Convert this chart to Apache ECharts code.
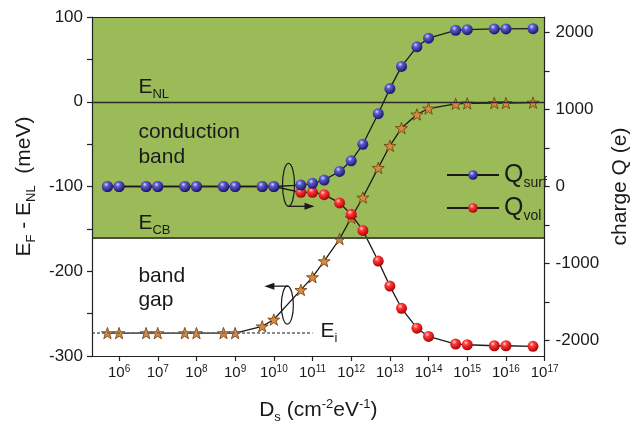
<!DOCTYPE html>
<html><head><meta charset="utf-8">
<script src="https://cdn.jsdelivr.net/npm/echarts@6/dist/echarts.min.js"></script>
<style>html,body{margin:0;padding:0;background:#fff}#c{width:639px;height:429px}</style>
</head><body><div id="c"></div>
<script>
// ---- data ----
const dValues = [5e5,1e6,5e6,1e7,5e7,1e8,5e8,1e9,5e9,1e10,5e10,1e11,2e11,5e11,1e12,2e12,5e12,1e13,2e13,5e13,1e14,5e14,1e15,5e15,1e16,5e16];
const eFermi = [-273,-273,-273,-273,-273,-273,-273,-273,-265,-257,-222,-207,-188,-162,-137,-113,-78,-52,-31,-15,-8,-2.5,-2,-1.5,-1.5,-1];
const qSurf = [0,0,0,0,0,0,0,0,0,0,19,41,84,196,333,548,945,1271,1559,1813,1925,2028,2036,2045,2045,2049];
const qVol = [0,0,0,0,0,0,0,0,0,0,-75,-75,-106,-213,-361,-570,-968,-1293,-1581,-1839,-1946,-2045,-2054,-2067,-2067,-2075];
const xTickExponents = [6,7,8,9,10,11,12,13,14,15,16,17];
const rightLabelValues = [-2000,-1000,0,1000,2000];
const rightTickValues = [-2000,-1500,-1000,-500,0,500,1000,1500,2000];
const xMinExp = 5.3, xMaxExp = 17;
const eNL = 0, eCB = -161, eI = -273, eIEndExp = 11.0;

const FONT = '"Liberation Sans", Arial, sans-serif';
const TXT = '#1a1a1a';
const starPath = 'path://M50,0L61.76,33.82L97.55,34.55L69.02,56.18L79.39,90.45L50,70L20.61,90.45L30.98,56.18L2.45,34.55L38.24,33.82Z';
const blueBall = {type:'radial',x:0.38,y:0.32,r:0.7,colorStops:[{offset:0,color:'#d6d6ff'},{offset:0.3,color:'#5c5ccc'},{offset:1,color:'#14146a'}]};
const redBall = {type:'radial',x:0.38,y:0.32,r:0.7,colorStops:[{offset:0,color:'#ffd6d6'},{offset:0.3,color:'#ff3a3a'},{offset:1,color:'#a80000'}]};
const lineCol = '#1a1a1a';

const pts = arr => dValues.map((d,i)=>[Math.log10(d), arr[i]]);

const subRich = {
  b:{fontSize:21,fontFamily:FONT,color:TXT,lineHeight:24},
  sub:{fontSize:13,fontFamily:FONT,color:TXT,lineHeight:13,padding:[13,0,0,0],verticalAlign:'top'},
  sup:{fontSize:13,fontFamily:FONT,color:TXT,lineHeight:13,verticalAlign:'top'}
};

const chart = echarts.init(document.getElementById('c'), null, {renderer:'canvas'});
const axisLineStyle = {color:'#222',width:1.2};
chart.setOption({
  animation:false,
  backgroundColor:'#fff',
  grid:{left:92,right:86,top:17,bottom:71},
  legend:{
    orient:'vertical', left:441, top:157, itemWidth:52, itemHeight:12, itemGap:5,
    data:['Qsurf','Qvol'],
    formatter: n => n==='Qsurf' ? '{q|Q}{s|surf}' : '{q|Q}{s|vol}',
    textStyle:{rich:{
      q:{fontSize:25,fontFamily:FONT,color:TXT,lineHeight:26},
      s:{fontSize:14,fontFamily:FONT,color:TXT,lineHeight:14,padding:[14,0,0,0],verticalAlign:'top'}
    }}
  },
  xAxis:[{
    type:'value', min:xMinExp, max:xMaxExp, z:10,
    axisLine:{show:true,onZero:false,lineStyle:axisLineStyle},
    axisTick:{show:true,customValues:xTickExponents,length:5,lineStyle:axisLineStyle},
    axisLabel:{customValues:xTickExponents,margin:8,
      formatter:v=>'{b|10}{p|'+Math.round(v)+'}',
      rich:{b:{fontSize:15,fontFamily:FONT,color:TXT,lineHeight:17},p:{fontSize:10,fontFamily:FONT,color:TXT,lineHeight:10,verticalAlign:'top'}}},
    splitLine:{show:false},
    name:'{b|D}{sub|s}{b| (cm}{sup|-2}{b|eV}{sup|-1}{b|)}',
    nameLocation:'middle', nameGap:42,
    nameTextStyle:{rich:subRich}
  },{
    type:'value', min:xMinExp, max:xMaxExp, position:'top', z:10,
    axisLine:{show:true,onZero:false,lineStyle:axisLineStyle},
    axisTick:{show:false}, axisLabel:{show:false}, splitLine:{show:false}
  }],
  yAxis:[{
    type:'value', min:-300, max:100, interval:100, z:10,
    axisLine:{show:true,onZero:false,lineStyle:axisLineStyle},
    axisTick:{show:true,length:5,lineStyle:axisLineStyle},
    minorTick:{show:true,splitNumber:2,length:5,lineStyle:axisLineStyle},
    axisLabel:{fontSize:17,fontFamily:FONT,color:TXT,margin:9},
    splitLine:{show:false},
    name:'{b|E}{sub|F}{b| - E}{sub|NL}{b|  (meV)}',
    nameLocation:'middle', nameGap:51, nameRotate:90,
    nameTextStyle:{rich:subRich}
  },{
    type:'value', min:-2200, max:2200, position:'right', z:10,
    axisLine:{show:true,onZero:false,lineStyle:axisLineStyle},
    axisTick:{show:true,customValues:rightTickValues,length:5,lineStyle:axisLineStyle},
    axisLabel:{customValues:rightLabelValues,fontSize:17,fontFamily:FONT,color:TXT,margin:11,
      formatter:v=>String(Math.round(v))},
    splitLine:{show:false},
    name:'charge Q (e)', nameLocation:'middle', nameGap:56, nameRotate:90,
    nameTextStyle:{fontSize:21,fontFamily:FONT,color:TXT}
  }],
  series:[
    {
      name:'bands', type:'line', xAxisIndex:0, yAxisIndex:0, data:[], z:1, silent:true,
      markArea:{silent:true,itemStyle:{color:'#9bbb59',opacity:1},
        data:[[{yAxis:eCB},{yAxis:100}]]},
      markLine:{silent:true,symbol:['none','none'],label:{show:false},
        data:[
          {yAxis:eNL,lineStyle:{color:'#2a2a2a',width:1.3,type:'solid'}},
          {yAxis:eCB,lineStyle:{color:'#4a4f40',width:1.8,type:'solid'}},
          [{coord:[xMinExp,eI],lineStyle:{color:'#5c6670',width:1.5,type:[3,2]}},{coord:[eIEndExp,eI]}]
        ]}
    },
    {
      name:'EF', type:'line', xAxisIndex:0, yAxisIndex:0, z:3,
      data:pts(eFermi), symbol:starPath, symbolSize:12, symbolKeepAspect:true,
      itemStyle:{color:'#d98a3e',borderColor:'#6a3a10',borderWidth:0.8},
      lineStyle:{color:lineCol,width:1.3}
    },
    {
      name:'Qvol', type:'line', xAxisIndex:0, yAxisIndex:1, z:4,
      data:pts(qVol), symbol:'circle', symbolSize:11,
      itemStyle:{color:redBall,borderWidth:0},
      lineStyle:{color:lineCol,width:1.3}
    },
    {
      name:'Qsurf', type:'line', xAxisIndex:0, yAxisIndex:1, z:5,
      data:pts(qSurf), symbol:'circle', symbolSize:11,
      itemStyle:{color:blueBall,borderWidth:0},
      lineStyle:{color:lineCol,width:1.3}
    }
  ]
});

// ---- annotations (text labels, loops and arrows) ----
const px = (xe, y) => chart.convertToPixel({xAxisIndex:0,yAxisIndex:0},[xe,y]);
const loopQ = px(10.38, -98);
const loopE = px(10.35, -240);
const ink = '#1a1a1a';
function txt(x,y,rich,text){return {type:'text',z:20,x:x,y:y,style:{text:text,rich:rich,font:'21px '+FONT,fill:TXT}};}
const subR = {b:{fontSize:21,fontFamily:FONT,fill:TXT,lineHeight:24},s:{fontSize:13,fontFamily:FONT,fill:TXT,lineHeight:13,padding:[13,0,0,0],verticalAlign:'top'}};
const aNL = px(6.5, eNL);
const aCB = px(6.5, eCB);
const aEi = px(11.05, eI);
chart.setOption({graphic:[
  txt(aNL[0], aNL[1]-27, subR, '{b|E}{s|NL}'),
  {type:'text',z:20,x:aNL[0],y:aNL[1]+18,style:{text:'conduction\nband',font:'21px '+FONT,fill:TXT,lineHeight:25}},
  txt(aCB[0], aCB[1]-27, subR, '{b|E}{s|CB}'),
  {type:'text',z:20,x:aNL[0],y:aCB[1]+26,style:{text:'band\ngap',font:'21px '+FONT,fill:TXT,lineHeight:24}},
  txt(aEi[0]+6, aEi[1]-14, subR, '{b|E}{s|i}'),
  {type:'ellipse',z:20,shape:{cx:loopQ[0],cy:loopQ[1],rx:6,ry:21.5},style:{fill:'none',stroke:ink,lineWidth:1.2}},
  {type:'line',z:20,shape:{x1:loopQ[0],y1:loopQ[1]+21.5,x2:loopQ[0]+18,y2:loopQ[1]+21.5},style:{stroke:ink,lineWidth:1.3}},
  {type:'polygon',z:20,shape:{points:[[loopQ[0]+26,loopQ[1]+21.5],[loopQ[0]+16,loopQ[1]+18],[loopQ[0]+16,loopQ[1]+25]]},style:{fill:ink}},
  {type:'ellipse',z:20,shape:{cx:loopE[0],cy:loopE[1],rx:6,ry:19},style:{fill:'none',stroke:ink,lineWidth:1.2}},
  {type:'line',z:20,shape:{x1:loopE[0]+1,y1:loopE[1]-19,x2:loopE[0]-15,y2:loopE[1]-19},style:{stroke:ink,lineWidth:1.3}},
  {type:'polygon',z:20,shape:{points:[[loopE[0]-23,loopE[1]-19],[loopE[0]-13,loopE[1]-22.5],[loopE[0]-13,loopE[1]-15.5]]},style:{fill:ink}}
]});
</script>
</body></html>
